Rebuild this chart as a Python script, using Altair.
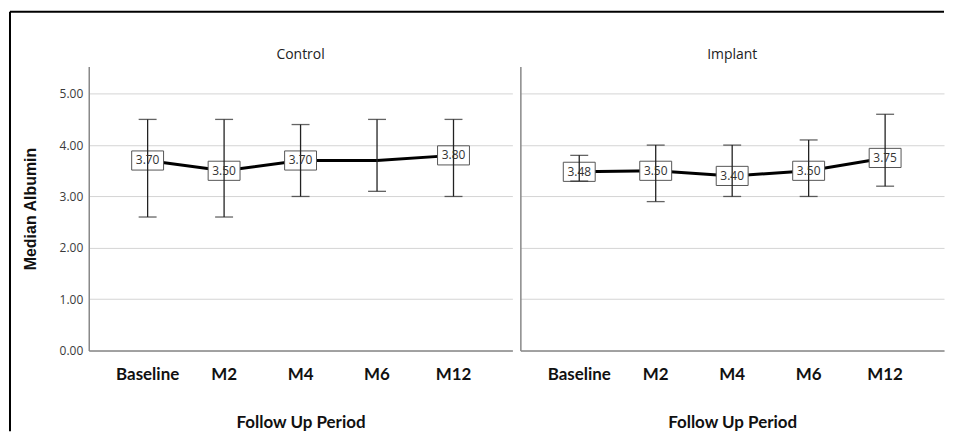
import altair as alt
import pandas as pd

periods = ["Baseline", "M2", "M4", "M6", "M12"]

control_median = [3.70, 3.50, 3.70, 3.70, 3.80]
control_low = [2.6, 2.6, 3.0, 3.1, 3.0]
control_high = [4.5, 4.5, 4.4, 4.5, 4.5]
control_labels = ["3.70", "3.50", "3.70", "", "3.80"]

implant_median = [3.48, 3.50, 3.40, 3.50, 3.75]
implant_low = [3.3, 2.9, 3.0, 3.0, 3.2]
implant_high = [3.8, 4.0, 4.0, 4.1, 4.6]
implant_labels = ["3.48", "3.50", "3.40", "3.50", "3.75"]

panel_titles = ["Control", "Implant"]
y_ticks = [0, 1, 2, 3, 4, 5]

PANEL_W = 425
PANEL_H = 285


def make_df(med, low, high, labels):
    return pd.DataFrame({"period": periods, "median": med, "low": low,
                         "high": high, "label": labels})


def panel(df, title, show_y, border=False):
    x = alt.X("period:N", sort=periods,
              scale=alt.Scale(paddingInner=0.5, paddingOuter=0.52),
              axis=alt.Axis(title="Follow Up Period", labelAngle=0,
                            labelFont="Lato", labelFontWeight="bold",
                            labelFontSize=17, labelColor="#111",
                            labelPadding=16, ticks=False,
                            domainColor="#888", domainWidth=1.5,
                            titleFont="Lato", titleFontSize=17,
                            titleFontWeight="bold", titleColor="#111",
                            titlePadding=32))
    if show_y:
        yaxis = alt.Axis(values=y_ticks, format=".2f", grid=True,
                         gridColor="#d4d4d4", ticks=False,
                         domainColor="#888", domainWidth=1.5,
                         labelFont="Open Sans", labelFontSize=12,
                         labelColor="#3a3a3a", labelPadding=6,
                         title="Median Albumin", titleFont="Liberation Sans",
                         titleFontSize=16, titleFontWeight="bold",
                         titleColor="#111", titlePadding=21)
    else:
        yaxis = alt.Axis(values=y_ticks, grid=True, gridColor="#d4d4d4",
                         ticks=False, labels=False, title=None,
                         domainColor="#888", domainWidth=1.5)
    yscale = alt.Scale(domain=[0, 5.53], nice=False)
    base = alt.Chart(df)

    line = base.mark_line(color="black", strokeWidth=3).encode(
        x=x, y=alt.Y("median:Q", scale=yscale, axis=yaxis))
    boxes = base.transform_filter(alt.datum.label != "").mark_point(
        shape="M-1,-0.6H1V0.6H-1Z", size=1024, filled=True, fill="white",
        stroke="#555", strokeWidth=1, opacity=1).encode(
        x=alt.X("period:N", sort=periods), y=alt.Y("median:Q"))
    rules = base.mark_rule(color="#222", strokeWidth=1.3).encode(
        x=alt.X("period:N", sort=periods), y=alt.Y("low:Q"), y2="high:Q")
    lo_caps = base.mark_tick(color="#222", size=18, thickness=1.3).encode(
        x=alt.X("period:N", sort=periods), y=alt.Y("low:Q"))
    hi_caps = base.mark_tick(color="#222", size=18, thickness=1.3).encode(
        x=alt.X("period:N", sort=periods), y=alt.Y("high:Q"))
    texts = base.transform_filter(alt.datum.label != "").mark_text(
        font="Open Sans", fontSize=12, color="#333").encode(
        x=alt.X("period:N", sort=periods), y=alt.Y("median:Q"),
        text="label:N")

    one = pd.DataFrame({"t": [title]})
    title_mark = alt.Chart(one).mark_text(
        font="Open Sans", fontSize=14, color="#222",
        baseline="alphabetic").encode(
        x=alt.value(PANEL_W / 2), y=alt.value(-8), text="t:N")

    layers = [line, boxes, rules, lo_caps, hi_caps, texts, title_mark]
    if border:
        top_line = alt.Chart(one).mark_rule(color="black", strokeWidth=2).encode(
            x=alt.value(-79), x2=alt.value(PANEL_W * 2 + 8), y=alt.value(-55))
        left_line = alt.Chart(one).mark_rule(color="black", strokeWidth=2).encode(
            x=alt.value(-79), y=alt.value(-55), y2=alt.value(366))
        layers += [top_line, left_line]

    return alt.layer(*layers).properties(width=PANEL_W, height=PANEL_H)


left = panel(make_df(control_median, control_low, control_high, control_labels),
             panel_titles[0], True, border=True)
right = panel(make_df(implant_median, implant_low, implant_high, implant_labels),
              panel_titles[1], False)

chart = alt.hconcat(left, right, spacing=8, bounds="flush").properties(
    padding={"left": 1, "top": 2, "right": 0, "bottom": 0},
    background="white",
).configure_view(stroke=None)

chart.save("out.html", embed_options={"renderer": "svg", "actions": False})
